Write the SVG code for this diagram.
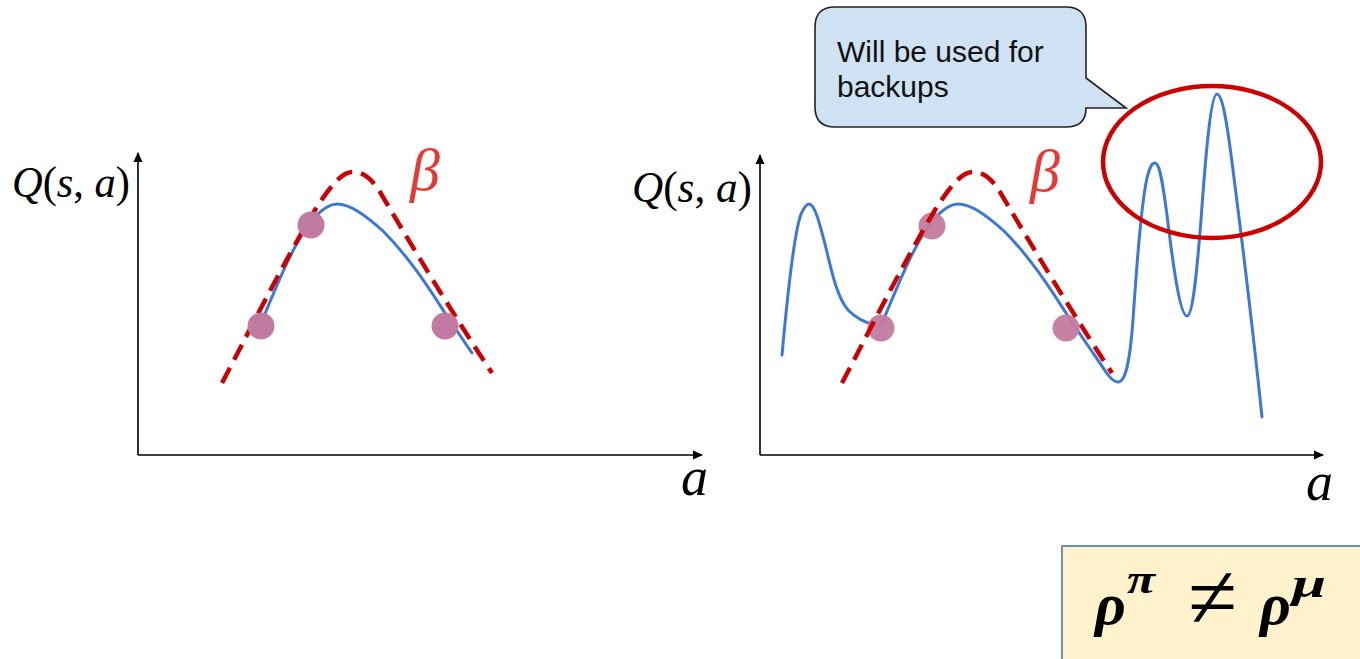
<svg xmlns="http://www.w3.org/2000/svg" width="1360" height="659" viewBox="0 0 1360 659">
<defs>
<marker id="arr" viewBox="0 0 10 10" refX="9" refY="5" markerWidth="10" markerHeight="10" markerUnits="userSpaceOnUse" orient="auto">
<path d="M0,0.5 L10,5 L0,9.5 Z" fill="#000"/>
</marker>
<style>
.axis{stroke:#000;stroke-width:1.6;fill:none}
.blue{stroke:#3c78d8;stroke-width:3;fill:none;stroke-linecap:round;stroke-linejoin:round}
.dash{stroke:#cc0000;stroke-width:4.5;fill:none;stroke-dasharray:17 9}
.pt{fill:#c27ba0}
.math{font-family:"Liberation Serif","DejaVu Serif",serif;fill:#000}
.it{font-style:italic}
.beta{font-family:"Liberation Serif","DejaVu Serif",serif;font-style:italic;fill:#e53935;font-size:60px}
.lbl{font-family:"Liberation Sans",Arial,sans-serif;font-size:30px;fill:#111}
</style>
</defs>
<rect width="1360" height="659" fill="#fff"/>

<g id="left-plot">
<g id="left-axes">
<line class="axis" x1="138" y1="455" x2="138" y2="153" marker-end="url(#arr)"/>
<line class="axis" x1="138" y1="455" x2="702" y2="455" marker-end="url(#arr)"/>
</g>
<text class="math" x="12" y="197" font-size="44" textLength="118" lengthAdjust="spacingAndGlyphs"><tspan class="it">Q</tspan>(<tspan class="it">s</tspan>, <tspan class="it">a</tspan>)</text>
<text class="math it" x="681" y="495" font-size="54">a</text>
<path class="blue" d="M264,316 C280,278 296,238 314,218 C325,206 332,204 337,204 C350,204 365,215 383,231 C410,258 430,290 445,313 C455,328 465,343 472,353"/>
<path class="dash" d="M222,383 C255,320 285,260 315,210 C335,178 345,172 353,172 C365,172 372,180 380,192 C420,260 460,325 492,373"/>
<text class="beta" x="410" y="190">β</text>
<circle class="pt" cx="261" cy="326" r="13.5"/>
<circle class="pt" cx="311" cy="225" r="13.5"/>
<circle class="pt" cx="445" cy="326" r="13.5"/>
</g>

<g id="right-plot">
<g id="right-axes">
<line class="axis" x1="760" y1="455" x2="760" y2="155" marker-end="url(#arr)"/>
<line class="axis" x1="760" y1="455" x2="1323" y2="455" marker-end="url(#arr)"/>
</g>
<text class="math" x="632" y="202" font-size="44" textLength="120" lengthAdjust="spacingAndGlyphs"><tspan class="it">Q</tspan>(<tspan class="it">s</tspan>, <tspan class="it">a</tspan>)</text>
<text class="math it" x="1306" y="500" font-size="54">a</text>
<path class="blue" d="M782,355 C787,300 795,225 802,212 C805,206 807,204 809,204 C815,204 820,225 826,248 C833,278 838,298 848,310 C858,320 866,322 874,325 C880,327 883,323 885,316 C901,278 917,238 935,218 C946,206 953,204 958,204 C971,204 986,215 1004,231 C1031,258 1051,290 1066,313 C1076,328 1086,343 1093,353 C1102,365 1110,382 1118,382 C1126,382 1130,360 1133,320 C1137,260 1142,200 1147,178 C1150,166 1152,163 1155,163 C1160,163 1163,185 1167,215 C1173,265 1180,316 1187,316 C1193,316 1197,270 1201,220 C1206,150 1211,94 1217,94 C1223,94 1228,130 1233,170 C1242,240 1255,350 1262,417"/>
<circle class="pt" cx="881" cy="328" r="13.5" opacity="0.95"/>
<circle class="pt" cx="932" cy="226" r="13.5" opacity="0.95"/>
<circle class="pt" cx="1066" cy="328" r="13.5" opacity="0.95"/>
<path class="dash" d="M842,383 C875,320 905,260 935,210 C955,178 965,172 973,172 C985,172 992,180 1000,192 C1040,260 1080,325 1112,373"/>
<text class="beta" x="1030" y="191">β</text>
<ellipse id="highlight" cx="1212" cy="162" rx="109" ry="76" fill="none" stroke="#cc0000" stroke-width="4.5"/>
</g>

<g id="callout">
<path d="M835,7 H1066 Q1086,7 1086,27 V78 L1126,108 H1086 Q1086,127 1066,127 H835 Q815,127 815,107 V27 Q815,7 835,7 Z" fill="#cfe2f3" stroke="#222" stroke-width="1.6"/>
<text class="lbl" x="837" y="62">Will be used for</text>
<text class="lbl" x="837" y="97">backups</text>
</g>

<g id="formula">
<rect x="1062" y="546" width="310" height="130" fill="#fff2cc" stroke="#6d8fb5" stroke-width="2"/>
<text class="math it" x="1095" y="624" font-size="60" font-weight="bold">ρ</text>
<text class="math it" x="1127" y="593" font-size="42" font-weight="bold" textLength="28" lengthAdjust="spacingAndGlyphs">π</text>
<text class="math" x="1188" y="628" font-size="92" textLength="49" lengthAdjust="spacingAndGlyphs">≠</text>
<text class="math it" x="1260" y="624" font-size="60" font-weight="bold">ρ</text>
<text class="math it" x="1292" y="597" font-size="42" font-weight="bold" textLength="34" lengthAdjust="spacingAndGlyphs">μ</text>
</g>
</svg>
